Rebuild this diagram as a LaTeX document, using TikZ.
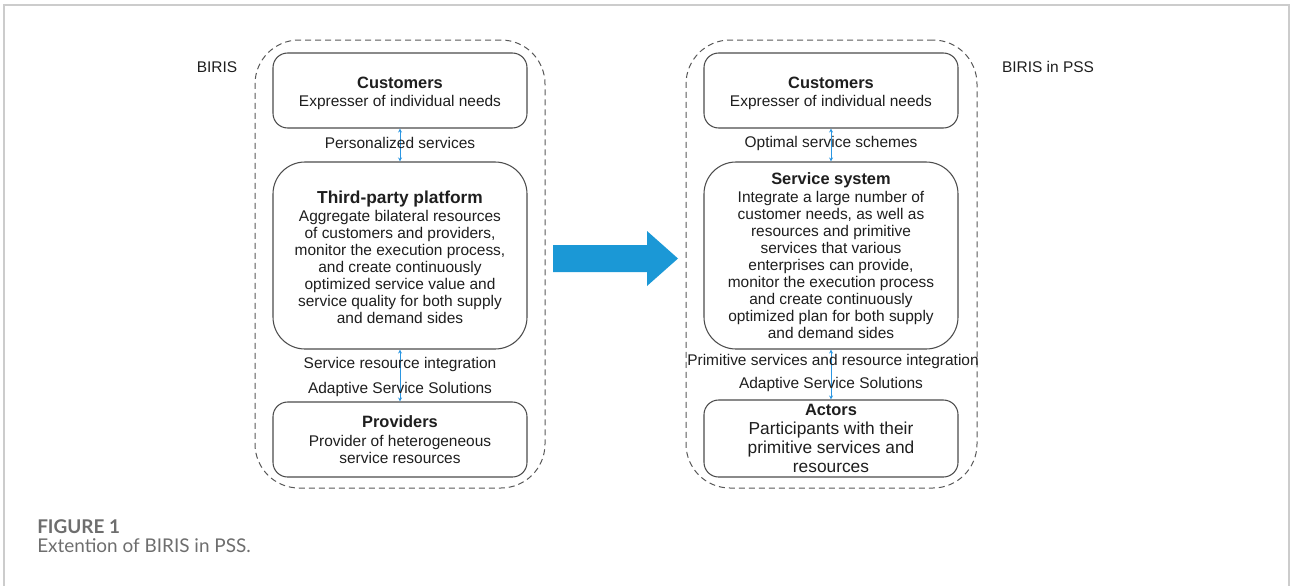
\documentclass[tikz,border=0pt]{standalone}
\usepackage{fontspec}
\setmainfont{Liberation Sans}
\newfontfamily\capfont{Lato}
\usetikzlibrary{arrows.meta}
\definecolor{bigblue}{RGB}{27,152,214}
\definecolor{linkblue}{RGB}{43,150,225}
\definecolor{txt}{RGB}{30,30,30}
\definecolor{framegray}{RGB}{204,204,204}
\definecolor{capgray}{RGB}{110,110,110}
\newcommand\ttl[1]{{\fontsize{12.3}{14}\selectfont\bfseries #1}}
\newcommand\ttlb[1]{{\fontsize{13}{15}\selectfont\bfseries #1}}
\begin{document}
\begin{tikzpicture}[x=0.75pt,y=-0.75pt,
  every node/.style={text=txt},
  container/.style={draw=black!65, dash pattern=on 4.5pt off 3pt, line width=0.75pt, rounded corners=33pt, inner sep=0pt},
  boxsm/.style={draw=black!70, line width=0.8pt, rounded corners=11pt, inner sep=0pt, align=center,
    minimum width=190.5pt, font=\fontsize{11.6}{12.75}\selectfont},
  boxlg/.style={boxsm, rounded corners=24pt},
  link/.style={draw=linkblue, line width=0.75pt, {Stealth[length=3pt,width=3pt]}-{Stealth[length=3pt,width=3pt]}},
  lbl/.style={font=\fontsize{11.6}{12.75}\selectfont, inner sep=0pt},
  captext/.style={font=\capfont\fontsize{14.2}{16}\selectfont, text=capgray, inner sep=0pt, anchor=west},
]
\useasboundingbox (0,0) rectangle (1290,586);
% frame
\draw[framegray, line width=1.1pt] (4,586) -- (4,5) -- (1289,5) -- (1289,586);

% containers
\node[container, minimum width=217.5pt, minimum height=336pt] (contL) at (400,264) {};
\node[container, minimum width=218.25pt, minimum height=336pt] (contR) at (831.5,264) {};

\node[lbl] (birisL) at (217,67) {BIRIS};
\node[lbl] (birisR) at (1048,67) {BIRIS in PSS};

% left boxes
\node[boxsm, minimum height=56.25pt] (custL) at (400,90.5) {\ttl{\rule{0pt}{13pt}Customers}\\[1pt] Expresser of individual needs};
\node[boxlg, minimum height=140.25pt] (tpp) at (400,255.5) {\ttlb{\rule{0pt}{12pt}Third-party platform}\\[1pt]
Aggregate bilateral resources\\ of customers and providers,\\ monitor the execution process,\\ and create continuously\\ optimized service value and\\ service quality for both supply\\ and demand sides};
\node[boxsm, minimum height=56.25pt] (prov) at (400,439.5) {\ttl{Providers}\\[1pt] Provider of heterogeneous\\ service resources};

\draw[link] (custL.south) -- (tpp.north);
\draw[link] (tpp.south) -- (prov.north);
\node[lbl] (l1) at (400,143) {Personalized services};
\node[lbl] (l2) at (400,364) {Service resource integration};
\node[lbl] (l3) at (400,389) {Adaptive Service Solutions};

% right boxes
\node[boxsm, minimum height=56.25pt] (custR) at (831,90.5) {\ttl{\rule{0pt}{13pt}Customers}\\[1pt] Expresser of individual needs};
\node[boxlg, minimum height=140.25pt] (sys) at (831,255.5) {\ttl{Service system}\\[1pt]
Integrate a large number of\\ customer needs, as well as\\ resources and primitive\\ services that various\\ enterprises can provide,\\ monitor the execution process\\ and create continuously\\ optimized plan for both supply\\ and demand sides};
\node[boxsm, minimum height=57.75pt, font=\fontsize{13}{14.25}\selectfont] (act) at (831,438.5) {\ttl{Actors}\\ Participants with their\\ primitive services and\\ resources};

\draw[link] (custR.south) -- (sys.north);
\draw[link] (sys.south) -- (act.north);
\node[lbl] (r1) at (831,143) {Optimal service schemes};
\node[lbl] (r2) at (833,361) {Primitive services and resource integration};
\node[lbl] (r3) at (831,384) {Adaptive Service Solutions};

% big arrow
\fill[bigblue] (553,245) -- (647,245) -- (647,231) -- (678,258.5) -- (647,286) -- (647,272) -- (553,272) -- cycle;

% caption
\node[captext, font=\capfont\bfseries\fontsize{14.2}{16}\selectfont] (fig) at (37,527) {FIGURE 1};
\node[captext] (captxt) at (37,546) {Extention of BIRIS in PSS.};
\end{tikzpicture}
\end{document}
